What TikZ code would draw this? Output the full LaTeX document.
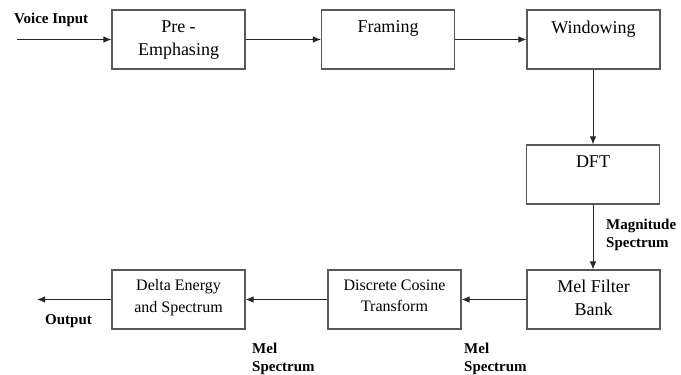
\documentclass[tikz,border=0pt]{standalone}
\usepackage{fontspec}
\setmainfont{Liberation Serif}
\usetikzlibrary{arrows.meta}
\begin{document}
\begin{tikzpicture}[x=1pt,y=-1pt,
  blk/.style={draw=black!65,line width=1.1pt,minimum width=133pt,minimum height=59pt,inner sep=0pt},
  btxt/.style={anchor=north,align=center,inner sep=0pt,font=\fontsize{18}{23}\selectfont},
  stxt/.style={anchor=north,align=center,inner sep=0pt,font=\fontsize{16}{21.5}\selectfont},
  lbl/.style={align=left,inner sep=0pt,font=\bfseries\fontsize{15}{17.5}\selectfont},
  conn/.style={draw=black!85,line width=1pt,-{Latex[length=8pt,width=6.5pt]}}]
\useasboundingbox (0,0) rectangle (681,375);
% top row
\node[blk] (b1) at (178.5,39.5) {};
\node[blk] (b2) at (388,39.5) {};
\node[blk] (b3) at (593.5,39.5) {};
\node[btxt] (t1) at ([yshift=-11pt]b1.north) {Pre -\\Emphasing};
\node[btxt] (t2) at ([yshift=-11pt]b2.north) {Framing};
\node[btxt] (t3) at ([yshift=-11pt]b3.north) {Windowing};
% DFT
\node[blk] (b4) at (593,174.5) {};
\node[btxt] (t4) at ([yshift=-11pt]b4.north) {DFT};
% bottom row
\node[blk] (b5) at (593.5,299.5) {};
\node[blk] (b6) at (394.5,299.5) {};
\node[blk] (b7) at (178.5,299.5) {};
\node[btxt] (t5) at ([yshift=-10pt]b5.north) {Mel Filter\\Bank};
\node[stxt] (t6) at ([yshift=-10pt]b6.north) {Discrete Cosine\\Transform};
\node[stxt] (t7) at ([yshift=-10pt]b7.north) {Delta Energy\\and Spectrum};
% labels
\node[lbl,anchor=west] (lvin) at (14,20) {Voice Input};
\node[lbl,anchor=north west] (lmag) at (606,219) {Magnitude\\Spectrum};
\node[lbl,anchor=west] (lout) at (45,321) {Output};
\node[lbl,anchor=north west] (lmel1) at (252,343) {Mel\\Spectrum};
\node[lbl,anchor=north west] (lmel2) at (464,343) {Mel\\Spectrum};
% connectors
\coordinate (vin) at (17,39.5);
\coordinate (vout) at (37,299.5);
\draw[conn] (vin) -- (b1.west);
\draw[conn] (b1.east) -- (b2.west);
\draw[conn] (b2.east) -- (b3.west);
\draw[conn] (b3.south -| b4.north) -- (b4.north);
\draw[conn] (b4.south) -- (b4.south |- b5.north);
\draw[conn] (b5.west) -- (b6.east);
\draw[conn] (b6.west) -- (b7.east);
\draw[conn] (b7.west) -- (vout);
\end{tikzpicture}
\end{document}
